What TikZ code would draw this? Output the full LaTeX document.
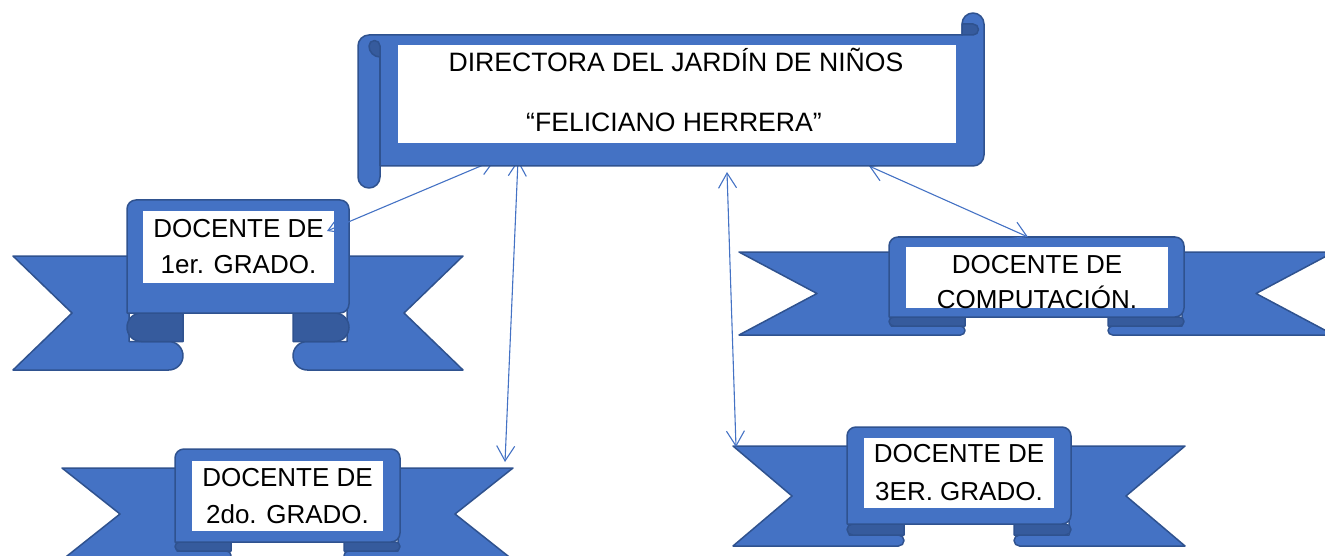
\documentclass[tikz,border=0pt]{standalone}
\usepackage{fontspec}
\setmainfont{Liberation Sans}
\usetikzlibrary{arrows.meta}
\definecolor{rfill}{HTML}{4472C4}
\definecolor{rline}{HTML}{2F528F}
\definecolor{rdark}{HTML}{365B9D}
\definecolor{cblue}{HTML}{4472C4}
\tikzset{
  rib/.style={fill=rfill, draw=rline, line width=1.5pt, line join=round},
  foldfill/.style={fill=rdark, draw=rline, line width=1.5pt, line join=round},
  wbox/.style={fill=white, draw=none, inner sep=0pt, rectangle},
  lbl/.style={font=\fontsize{26}{30}\selectfont, anchor=base, inner sep=0pt, text=black},
  biglbl/.style={lbl, font=\fontsize{26.6}{30}\selectfont},
  conn/.style={draw=cblue, line width=1.1pt, {Straight Barb[length=15pt,width=18pt]}-{Straight Barb[length=15pt,width=18pt]}},
}
% L R inset foldw notchdx paneltop tailtop foldtop bottom
\newcommand\myribbon[9]{%
  \pgfmathsetmacro\rbpL{#1+#3}%
  \pgfmathsetmacro\rbpR{#2-#3}%
  \pgfmathsetmacro\rbfL{#1+#3+#4}%
  \pgfmathsetmacro\rbfR{#2-#3-#4}%
  \pgfmathsetmacro\rbnL{#1+#5}%
  \pgfmathsetmacro\rbnR{#2-#5}%
  \pgfmathsetmacro\rbny{(#7+#9)/2}%
  \pgfmathsetmacro\rbdy{(#8+#9)/2}%
  \pgfmathsetmacro\rbrr{(#9-\rbdy)/2}%
  \pgfmathsetmacro\rbrd{(\rbdy-#8)/2}%
  \filldraw[rib] (#1,#7) -- (\rbpL+2,#7) -- (\rbpL+2,\rbdy) -- (\rbfL-\rbrr,\rbdy)
     arc[start angle=-90,end angle=90,radius=\rbrr] -- (#1,#9) -- (\rbnL,\rbny) -- cycle;
  \filldraw[rib] (#2,#7) -- (\rbpR-2,#7) -- (\rbpR-2,\rbdy) -- (\rbfR+\rbrr,\rbdy)
     arc[start angle=-90,end angle=-270,radius=\rbrr] -- (#2,#9) -- (\rbnR,\rbny) -- cycle;
  \filldraw[foldfill] (\rbfL,#8) -- (\rbpL+\rbrd,#8)
     arc[start angle=-90,end angle=-270,radius=\rbrd] -- (\rbfL,\rbdy) -- cycle;
  \filldraw[foldfill] (\rbfR,#8) -- (\rbpR-\rbrd,#8)
     arc[start angle=-90,end angle=90,radius=\rbrd] -- (\rbfR,\rbdy) -- cycle;
  \filldraw[rib] (\rbpL,#8) [rounded corners=9pt] -- (\rbpL,#6) -- (\rbpR,#6) -- (\rbpR,#8) [sharp corners] -- cycle;
}
\begin{document}
\begin{tikzpicture}[x=1pt,y=-1pt]
\useasboundingbox (0,0) rectangle (1325,556);
\clip (0,0) rectangle (1325,556);
% ribbons
\myribbon{13}{463}{114}{56}{59}{200}{256}{313}{370}
\myribbon{62}{513}{113}{56}{58}{449}{468}{542}{560}
\myribbon{733}{1185}{114}{57}{59}{427}{446}{524}{546}
\myribbon{739}{1334}{150}{76}{78}{237}{252}{317}{335}
% ribbon text boxes
\node[wbox, minimum width=191pt, minimum height=72pt] (box1) at (238.5,247) {};
\node[lbl] (t1a) at (238.5,237) {DOCENTE DE};
\node[lbl] (t1b) at (238.5,273) {1er. GRADO.};
\node[wbox, minimum width=191pt, minimum height=70pt] (box2) at (287.5,496) {};
\node[lbl] (t2a) at (287.5,486.5) {DOCENTE DE};
\node[lbl] (t2b) at (287.5,523.5) {2do. GRADO.};
\node[wbox, minimum width=190pt, minimum height=70pt] (box3) at (959,473) {};
\node[lbl] (t3a) at (959,462.5) {DOCENTE DE};
\node[lbl] (t3b) at (959,500.5) {3ER. GRADO.};
\node[wbox, minimum width=262pt, minimum height=61pt] (box4) at (1037,277.5) {};
\begin{scope}
  \clip (906,247) rectangle (1168,308);
  \node[lbl] (t4a) at (1037,273) {DOCENTE DE};
  \node[lbl] (t4b) at (1037,308) {COMPUTACIÓN.};
\end{scope}
% connectors
\coordinate (c1s) at (495,160); \coordinate (c1e) at (327,231);
\coordinate (c2s) at (518,160); \coordinate (c2e) at (505,462);
\coordinate (c3s) at (727,172); \coordinate (c3e) at (736,447);
\coordinate (c4s) at (869,166); \coordinate (c4e) at (1028,237);
\draw[conn] (c1s) -- (c1e);
\draw[conn] (c2s) -- (c2e);
\draw[conn] (c3s) -- (c3e);
\draw[conn] (c4s) -- (c4e);
% main scroll
\filldraw[rib] (358,46) arc[start angle=180,end angle=270,radius=11] -- (962,35) -- (962,24)
   arc[start angle=180,end angle=360,radius=11] -- (984,155)
   arc[start angle=0,end angle=90,radius=11] -- (380,166) -- (380,177)
   arc[start angle=0,end angle=180,radius=11] -- cycle;
\filldraw[foldfill] (962,35) -- (973,35) arc[start angle=90,end angle=-90,radius=5.5] -- (962,24) -- cycle;
\filldraw[foldfill] (380,57) -- (380,46) arc[start angle=0,end angle=-180,radius=5.5]
   arc[start angle=180,end angle=90,radius=11] -- cycle;
\draw[draw=rline, line width=1.5pt] (380,57) -- (380,166);
\node[wbox, minimum width=558pt, minimum height=98pt] (dirbox) at (677,94) {};
\node[biglbl] (dir1) at (676,72) {DIRECTORA DEL JARDÍN DE NIÑOS};
\node[biglbl] (dir2) at (674,132) {“FELICIANO HERRERA”};
\end{tikzpicture}
\end{document}
